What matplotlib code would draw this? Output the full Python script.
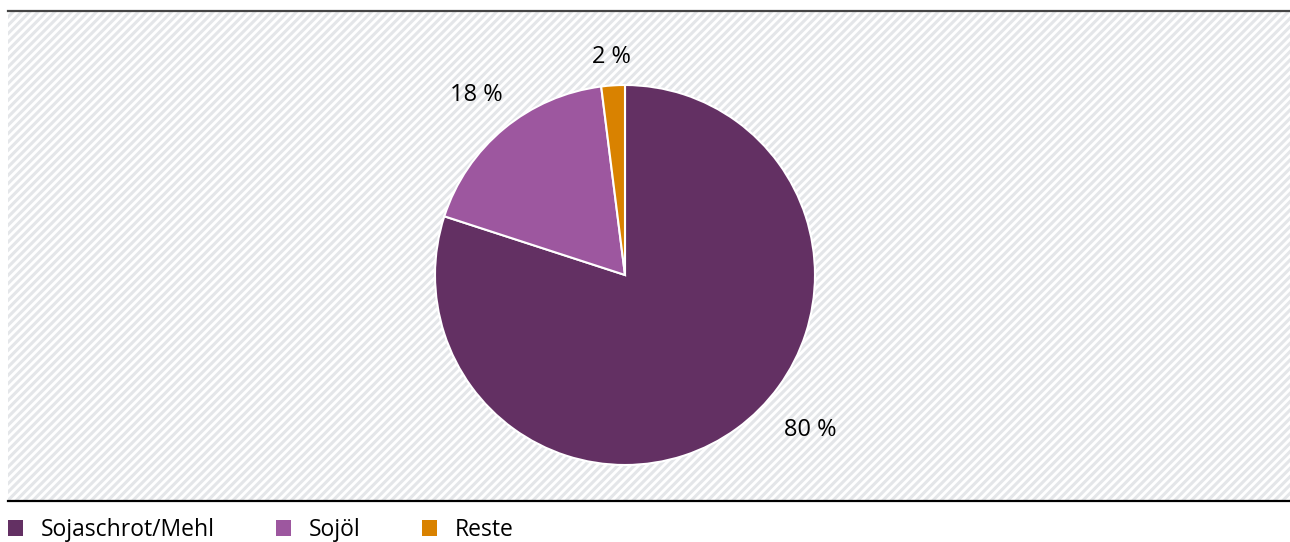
import numpy as np
import matplotlib
matplotlib.use("Agg")
import matplotlib.pyplot as plt
from matplotlib.patches import Rectangle, Patch

plt.rcParams["font.family"] = ["Open Sans", "DejaVu Sans"]
plt.rcParams["hatch.linewidth"] = 2.2

# daten
kategorien = ["Sojaschrot/Mehl", "Sojöl", "Reste"]
anteile = [80, 18, 2]
beschriftung = ["80 %", "18 %", "2 %"]
farben = ["#633063", "#9d579f", "#d98200"]

# label-lage: (winkelversatz in grad, abstand in radien)
label_lage = [(14, 1.27), (0, 1.23), (0, 1.15)]

W, H = 1290, 542
fig = plt.figure(figsize=(W / 100, H / 100), dpi=100)
ax = fig.add_axes([8 / W, 41 / H, 1282 / W, 490 / H])

# schraffierter hintergrund
ax.add_patch(Rectangle((0, 0), 1, 1, transform=ax.transAxes, facecolor="white",
                       edgecolor="#e4e6e9", hatch="////", linewidth=0, zorder=0))

mitte = (625, 267)
radius = 190
wedges, _ = ax.pie(anteile, colors=farben, startangle=90, counterclock=False,
                   center=mitte, radius=radius, frame=True,
                   wedgeprops=dict(edgecolor="white", linewidth=1.5, zorder=2))

for w, txt, (dw, dist) in zip(wedges, beschriftung, label_lage):
    ang = np.deg2rad((w.theta1 + w.theta2) / 2 + dw)
    x = mitte[0] + dist * radius * np.cos(ang)
    y = mitte[1] + dist * radius * np.sin(ang)
    ax.text(x, y, txt, ha="center", va="center", fontsize=17, color="black", zorder=3)

ax.set_xlim(8, 1290)
ax.set_ylim(41, 531)
ax.set_aspect("auto")
ax.set_xticks([])
ax.set_yticks([])
for s in ["left", "right"]:
    ax.spines[s].set_visible(False)
ax.spines["top"].set_color("#444444")
ax.spines["top"].set_linewidth(1.6)
ax.spines["bottom"].set_color("black")
ax.spines["bottom"].set_linewidth(1.6)

handles = [Patch(facecolor=c, edgecolor="none") for c in farben]
fig.legend(handles, kategorien, loc="center left", bbox_to_anchor=(8 / W, 12 / H),
           ncol=3, frameon=False, fontsize=16.5, borderpad=0, borderaxespad=0,
           handlelength=0.65, handleheight=0.65, handletextpad=0.78, columnspacing=2.68)

plt.savefig("out.png", dpi=100)
